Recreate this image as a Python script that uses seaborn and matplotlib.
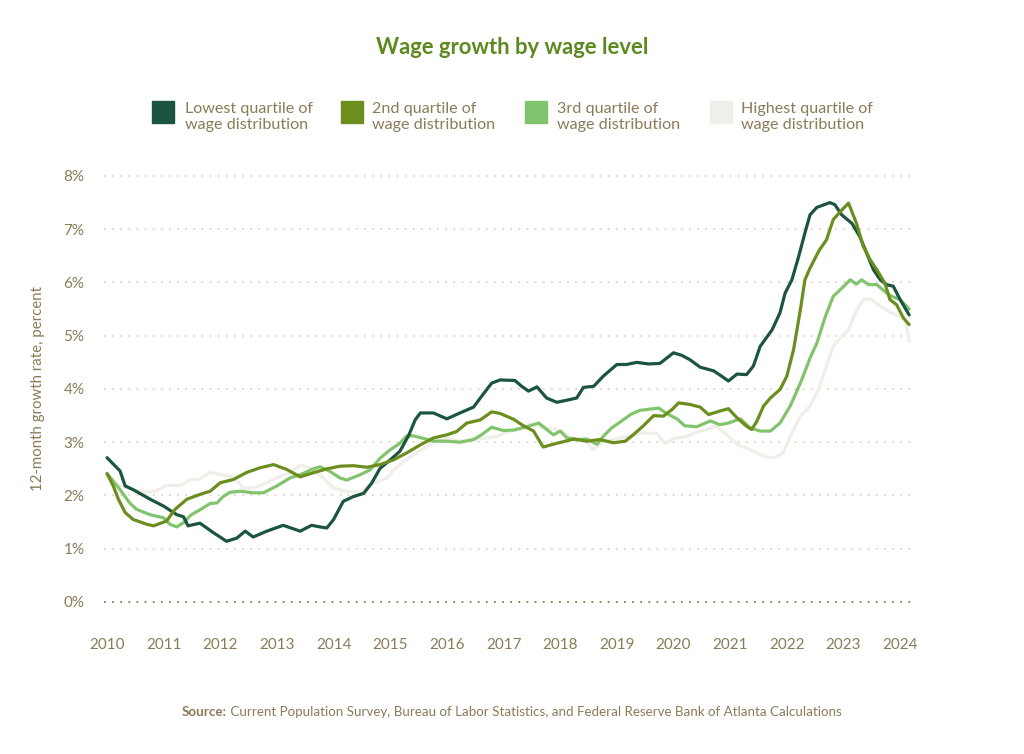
import matplotlib
matplotlib.use("Agg")
import pandas as pd
import seaborn as sns
import matplotlib.pyplot as plt
from matplotlib.patches import Rectangle

# data (12-month wage growth, percent)
series_names = [
    "Lowest quartile of\nwage distribution",
    "2nd quartile of\nwage distribution",
    "3rd quartile of\nwage distribution",
    "Highest quartile of\nwage distribution",
]
series_colors = ["#1b5540", "#6b8e1f", "#82c46e", "#efeee8"]

low_years = [2010.0, 2010.23, 2010.32, 2010.46, 2010.76, 2011.0, 2011.23, 2011.35, 2011.43, 2011.64,
             2011.88, 2012.11, 2012.29, 2012.44, 2012.58, 2012.82, 2013.11, 2013.41, 2013.61, 2013.76,
             2013.88, 2014.0, 2014.17, 2014.35, 2014.53, 2014.67, 2014.82, 2015.0, 2015.17, 2015.33,
             2015.44, 2015.53, 2015.76, 2016.0, 2016.23, 2016.47, 2016.61, 2016.79, 2016.94, 2017.2,
             2017.32, 2017.44, 2017.59, 2017.76, 2017.94, 2018.12, 2018.29, 2018.41, 2018.59, 2018.76,
             2019.0, 2019.17, 2019.35, 2019.56, 2019.76, 2020.0, 2020.15, 2020.29, 2020.47, 2020.71,
             2020.85, 2020.97, 2021.12, 2021.29, 2021.41, 2021.53, 2021.74, 2021.88, 2021.97, 2022.09,
             2022.21, 2022.32, 2022.41, 2022.53, 2022.76, 2022.85, 2022.97, 2023.15, 2023.29, 2023.41,
             2023.53, 2023.65, 2023.76, 2023.88, 2024.0, 2024.16]
low_rates = [2.71, 2.46, 2.18, 2.11, 1.93, 1.80, 1.64, 1.60, 1.43, 1.48,
             1.30, 1.14, 1.20, 1.33, 1.22, 1.33, 1.44, 1.33, 1.44, 1.41,
             1.39, 1.55, 1.89, 1.98, 2.04, 2.23, 2.51, 2.67, 2.83, 3.14,
             3.42, 3.55, 3.55, 3.44, 3.55, 3.66, 3.86, 4.11, 4.17, 4.16,
             4.05, 3.96, 4.04, 3.83, 3.75, 3.79, 3.83, 4.03, 4.05, 4.24,
             4.46, 4.46, 4.50, 4.47, 4.48, 4.68, 4.63, 4.55, 4.41, 4.34,
             4.24, 4.15, 4.28, 4.27, 4.43, 4.80, 5.11, 5.43, 5.80, 6.05,
             6.49, 6.93, 7.27, 7.41, 7.50, 7.46, 7.27, 7.11, 6.86, 6.55,
             6.24, 6.05, 5.96, 5.93, 5.68, 5.39]

q2_years = [2010.0, 2010.11, 2010.2, 2010.32, 2010.46, 2010.7, 2010.82, 2011.05, 2011.2, 2011.41,
            2011.64, 2011.82, 2012.0, 2012.23, 2012.46, 2012.7, 2012.94, 2013.17, 2013.41, 2013.65,
            2013.88, 2014.11, 2014.35, 2014.59, 2014.82, 2015.06, 2015.29, 2015.53, 2015.76, 2016.0,
            2016.17, 2016.35, 2016.59, 2016.79, 2016.94, 2017.18, 2017.35, 2017.53, 2017.62, 2017.7,
            2017.94, 2018.24, 2018.47, 2018.7, 2018.94, 2019.15, 2019.29, 2019.47, 2019.65, 2019.82,
            2019.97, 2020.09, 2020.29, 2020.47, 2020.62, 2020.8, 2020.97, 2021.12, 2021.29, 2021.38,
            2021.47, 2021.59, 2021.71, 2021.88, 2022.0, 2022.12, 2022.24, 2022.32, 2022.41, 2022.57,
            2022.7, 2022.82, 2022.97, 2023.09, 2023.23, 2023.35, 2023.47, 2023.59, 2023.73, 2023.82,
            2023.94, 2024.06, 2024.16]
q2_rates = [2.41, 2.18, 1.93, 1.68, 1.55, 1.46, 1.43, 1.52, 1.74, 1.93,
            2.02, 2.08, 2.24, 2.30, 2.43, 2.52, 2.58, 2.49, 2.35, 2.43,
            2.50, 2.55, 2.56, 2.53, 2.58, 2.67, 2.80, 2.95, 3.08, 3.14,
            3.20, 3.36, 3.42, 3.57, 3.54, 3.43, 3.31, 3.21, 3.05, 2.91,
            2.98, 3.06, 3.02, 3.05, 2.99, 3.02, 3.14, 3.31, 3.50, 3.49,
            3.61, 3.74, 3.71, 3.66, 3.52, 3.58, 3.63, 3.46, 3.30, 3.24,
            3.39, 3.68, 3.83, 3.99, 4.24, 4.74, 5.49, 6.05, 6.27, 6.60,
            6.80, 7.18, 7.36, 7.49, 7.11, 6.68, 6.43, 6.24, 5.99, 5.68,
            5.58, 5.33, 5.21]

q3_years = [2010.0, 2010.23, 2010.4, 2010.52, 2010.76, 2011.0, 2011.11, 2011.23, 2011.35, 2011.49,
            2011.64, 2011.82, 2011.94, 2012.05, 2012.17, 2012.35, 2012.58, 2012.76, 2013.0, 2013.23,
            2013.41, 2013.64, 2013.76, 2013.94, 2014.11, 2014.23, 2014.47, 2014.64, 2014.82, 2015.0,
            2015.17, 2015.29, 2015.41, 2015.59, 2015.76, 2016.0, 2016.23, 2016.47, 2016.61, 2016.79,
            2017.0, 2017.18, 2017.41, 2017.62, 2017.76, 2017.88, 2018.0, 2018.12, 2018.29, 2018.47,
            2018.65, 2018.76, 2018.91, 2019.06, 2019.24, 2019.41, 2019.65, 2019.74, 2019.88, 2020.06,
            2020.2, 2020.41, 2020.65, 2020.82, 2020.97, 2021.18, 2021.35, 2021.53, 2021.71, 2021.88,
            2022.06, 2022.24, 2022.41, 2022.53, 2022.68, 2022.82, 2022.97, 2023.12, 2023.23, 2023.32,
            2023.44, 2023.59, 2023.73, 2023.85, 2024.0, 2024.16]
q3_rates = [2.41, 2.11, 1.86, 1.74, 1.64, 1.58, 1.46, 1.41, 1.49, 1.64,
            1.73, 1.85, 1.86, 1.98, 2.06, 2.08, 2.05, 2.05, 2.18, 2.33,
            2.39, 2.50, 2.54, 2.45, 2.33, 2.29, 2.39, 2.48, 2.70, 2.86,
            2.98, 3.12, 3.12, 3.07, 3.02, 3.02, 3.00, 3.05, 3.14, 3.28,
            3.22, 3.23, 3.29, 3.36, 3.24, 3.14, 3.21, 3.08, 3.05, 3.06,
            2.96, 3.11, 3.27, 3.38, 3.52, 3.60, 3.63, 3.64, 3.54, 3.44,
            3.31, 3.29, 3.40, 3.33, 3.36, 3.44, 3.27, 3.21, 3.21, 3.36,
            3.68, 4.11, 4.58, 4.86, 5.36, 5.74, 5.89, 6.05, 5.97, 6.05,
            5.96, 5.96, 5.83, 5.74, 5.68, 5.50]

high_years = [2010.0, 2010.23, 2010.46, 2010.7, 2010.85, 2011.05, 2011.29, 2011.46, 2011.64, 2011.82,
              2012.0, 2012.23, 2012.41, 2012.58, 2012.82, 2013.05, 2013.23, 2013.41, 2013.58, 2013.76,
              2014.0, 2014.23, 2014.47, 2014.7, 2014.94, 2015.06, 2015.23, 2015.41, 2015.59, 2015.76,
              2016.0, 2016.23, 2016.47, 2016.7, 2016.88, 2017.06, 2017.29, 2017.47, 2017.7, 2017.94,
              2018.12, 2018.29, 2018.47, 2018.59, 2018.76, 2018.94, 2019.18, 2019.47, 2019.71, 2019.85,
              2020.0, 2020.24, 2020.41, 2020.59, 2020.75, 2020.94, 2021.15, 2021.29, 2021.47, 2021.65,
              2021.79, 2021.94, 2022.06, 2022.24, 2022.41, 2022.56, 2022.7, 2022.82, 2022.97, 2023.09,
              2023.21, 2023.35, 2023.47, 2023.65, 2023.82, 2024.0, 2024.09, 2024.16]
high_rates = [2.39, 2.18, 2.11, 2.06, 2.08, 2.19, 2.19, 2.29, 2.31, 2.44,
              2.39, 2.35, 2.14, 2.14, 2.24, 2.36, 2.43, 2.57, 2.52, 2.38,
              2.14, 2.08, 2.06, 2.23, 2.33, 2.48, 2.64, 2.76, 2.89, 3.00,
              3.08, 3.02, 3.05, 3.08, 3.11, 3.18, 3.25, 3.36, 3.27, 3.24,
              3.14, 3.06, 2.99, 2.86, 3.02, 3.05, 3.11, 3.18, 3.16, 2.97,
              3.07, 3.11, 3.19, 3.24, 3.31, 3.14, 2.94, 2.89, 2.80, 2.72,
              2.71, 2.80, 3.11, 3.49, 3.68, 3.99, 4.43, 4.80, 4.99, 5.11,
              5.43, 5.68, 5.69, 5.56, 5.44, 5.36, 5.33, 4.89]

year_ticks = list(range(2010, 2025))
pct_ticks = list(range(0, 9))

# build long table for seaborn
frames = []
for name, yrs, vals in zip(series_names,
                           [low_years, q2_years, q3_years, high_years],
                           [low_rates, q2_rates, q3_rates, high_rates]):
    frames.append(pd.DataFrame({"year": yrs, "rate": vals, "series": name}))
df = pd.concat(frames, ignore_index=True)

brown = "#8b7b57"
grid_col = "#dcd7c6"
title_col = "#5d8a1e"

sns.set_theme(style="white")
plt.rcParams["font.family"] = ["Lato", "DejaVu Sans"]

fig = plt.figure(figsize=(10.24, 7.54), dpi=100)
ax = fig.add_axes([0.1016, 0.2016, 0.789, 0.565])

# gridlines first so lines sit on top
for v in pct_ticks:
    ax.axhline(v, color=brown if v == 0 else grid_col, lw=1.3,
               linestyle=(0, (1, 3.5)), clip_on=False, zorder=0)

palette = dict(zip(series_names, series_colors))
draw_order = [series_names[3], series_names[2], series_names[0], series_names[1]]
sns.lineplot(data=df, x="year", y="rate", hue="series", hue_order=draw_order,
             palette=palette, estimator=None, sort=True, linewidth=2.3,
             legend=False, ax=ax)
for ln in ax.get_lines():
    ln.set_solid_capstyle("round")
    ln.set_solid_joinstyle("round")

ax.set_xlim(2009.947, 2024.21)
ax.set_ylim(0, 8)
ax.set_xticks(year_ticks)
ax.set_xticklabels([str(y) for y in year_ticks])
ax.set_yticks(pct_ticks)
ax.set_yticklabels([f"{v}%" for v in pct_ticks])
ax.tick_params(axis="both", length=0, labelsize=11, labelcolor=brown)
ax.tick_params(axis="y", pad=14)
ax.tick_params(axis="x", pad=26)
ax.set_xlabel("")
ax.set_ylabel("")
sns.despine(ax=ax, left=True, bottom=True)

fig.text(38 / 1024, 1 - 389 / 754, "12-month growth rate, percent", rotation=90,
         ha="center", va="center", fontsize=10.8, color=brown)

fig.text(0.5, 1 - 48 / 754, "Wage growth by wage level", ha="center", va="center",
         fontsize=15.8, fontweight="bold", color=title_col)

# legend
sq_x = [152, 341, 525, 710]
txt_x = [185, 372, 557, 741]
for sx, tx, name, col in zip(sq_x, txt_x, series_names, series_colors):
    fig.patches.append(Rectangle((sx / 1024, 1 - 123 / 754), 22 / 1024, 22 / 754,
                                 transform=fig.transFigure, color=col))
    fig.text(tx / 1024, 1 - 117 / 754, name, ha="left", va="center",
             fontsize=11.6, color=brown, linespacing=1.25)

# source line, bold prefix + regular text, centred as a whole
fig.canvas.draw()
renderer = fig.canvas.get_renderer()
t1 = fig.text(0, 1 - 712 / 754, "Source:", ha="left", va="center",
              fontsize=9.6, fontweight="bold", color=brown)
t2 = fig.text(0, 1 - 712 / 754,
              " Current Population Survey, Bureau of Labor Statistics, and Federal Reserve Bank of Atlanta Calculations",
              ha="left", va="center", fontsize=9.6, color=brown)
w1 = t1.get_window_extent(renderer).width
w2 = t2.get_window_extent(renderer).width
start = (1024 - w1 - w2) / 2
t1.set_x(start / 1024)
t2.set_x((start + w1) / 1024)

fig.savefig("out.png", dpi=100, facecolor="white")
